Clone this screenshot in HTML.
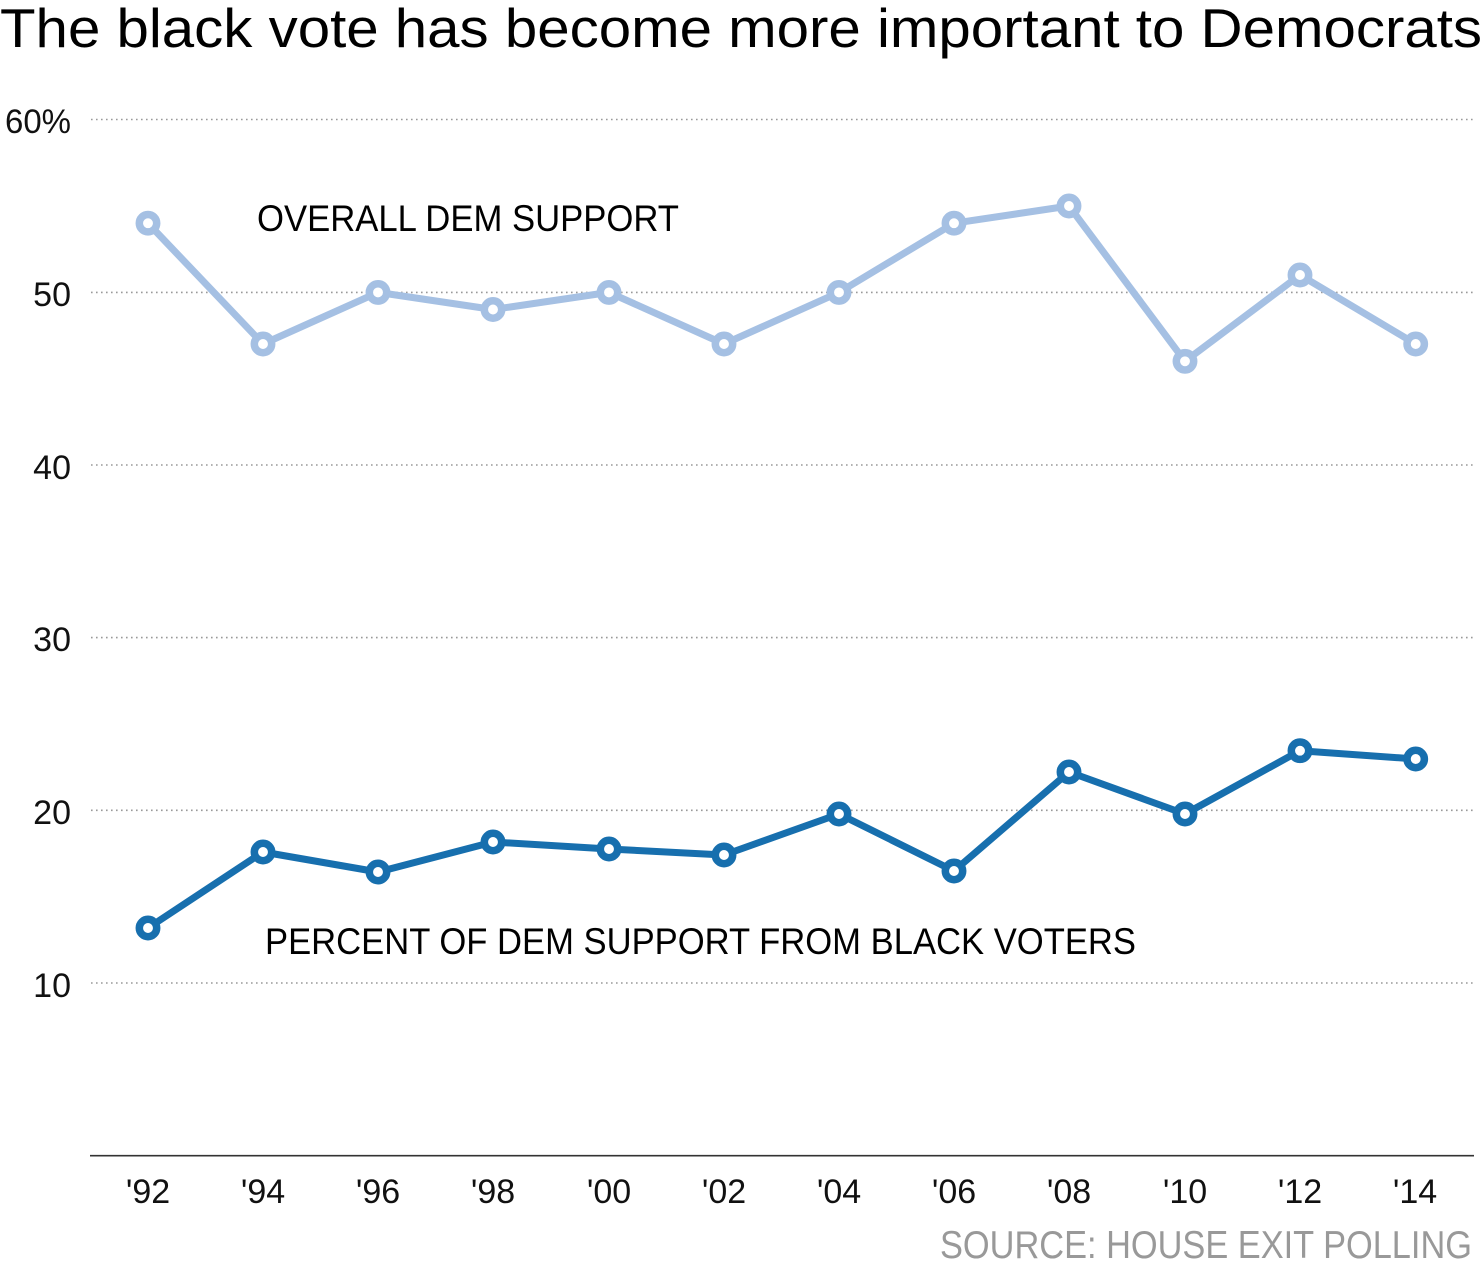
<!DOCTYPE html>
<html><head><meta charset="utf-8"><style>
html,body{margin:0;padding:0;background:#fff;}
svg{display:block;}
text{font-family:"Liberation Sans",sans-serif;}
</style></head><body>
<svg width="1484" height="1266" viewBox="0 0 1484 1266" xmlns="http://www.w3.org/2000/svg">
<rect width="1484" height="1266" fill="#fff"/>
<text x="0" y="47" font-size="55" fill="#000" textLength="1482" lengthAdjust="spacingAndGlyphs">The black vote has become more important to Democrats</text>
<g stroke="#999" stroke-width="1.6" stroke-dasharray="1.6 3.4" fill="none">
<line x1="91" y1="119.5" x2="1474" y2="119.5"/>
<line x1="91" y1="292.4" x2="1474" y2="292.4"/>
<line x1="91" y1="465" x2="1474" y2="465"/>
<line x1="91" y1="637.6" x2="1474" y2="637.6"/>
<line x1="91" y1="810.3" x2="1474" y2="810.3"/>
<line x1="91" y1="983" x2="1474" y2="983"/>
</g>
<line x1="90" y1="1155.7" x2="1474" y2="1155.7" stroke="#333" stroke-width="1.6"/>
<g font-size="34" fill="#111" text-anchor="end">
<text x="71" y="133" textLength="66" lengthAdjust="spacingAndGlyphs">60%</text>
<text x="71" y="306">50</text>
<text x="71" y="479">40</text>
<text x="71" y="651">30</text>
<text x="71" y="824">20</text>
<text x="71" y="997">10</text>
</g>
<g font-size="34" fill="#111" text-anchor="middle">
<text x="148" y="1203">'92</text>
<text x="263" y="1203">'94</text>
<text x="378" y="1203">'96</text>
<text x="493" y="1203">'98</text>
<text x="609" y="1203">'00</text>
<text x="724" y="1203">'02</text>
<text x="839" y="1203">'04</text>
<text x="954" y="1203">'06</text>
<text x="1069" y="1203">'08</text>
<text x="1185" y="1203">'10</text>
<text x="1300" y="1203">'12</text>
<text x="1415" y="1203">'14</text>
</g>
<text x="257" y="231" font-size="37" fill="#000" textLength="422" lengthAdjust="spacingAndGlyphs">OVERALL DEM SUPPORT</text>
<text x="265" y="954" font-size="37" fill="#000" textLength="871" lengthAdjust="spacingAndGlyphs">PERCENT OF DEM SUPPORT FROM BLACK VOTERS</text>
<text x="940" y="1258" font-size="39" fill="#999" textLength="532" lengthAdjust="spacingAndGlyphs">SOURCE: HOUSE EXIT POLLING</text>
<g fill="none" stroke="#a5c0e3" stroke-width="7" stroke-linejoin="round">
<polyline points="148,223.2 263,344 378,292.4 493,309.5 609,292.4 724,344 839,292.4 954,223.2 1069,206 1185,361.3 1300,275 1415.7,344"/>
</g>
<g fill="#fff" stroke="#a5c0e3" stroke-width="7.5">
<circle cx="148" cy="223.2" r="8.7"/><circle cx="263" cy="344" r="8.7"/><circle cx="378" cy="292.4" r="8.7"/><circle cx="493" cy="309.5" r="8.7"/><circle cx="609" cy="292.4" r="8.7"/><circle cx="724" cy="344" r="8.7"/><circle cx="839" cy="292.4" r="8.7"/><circle cx="954" cy="223.2" r="8.7"/><circle cx="1069" cy="206" r="8.7"/><circle cx="1185" cy="361.3" r="8.7"/><circle cx="1300" cy="275" r="8.7"/><circle cx="1415.7" cy="344" r="8.7"/>
</g>
<g fill="none" stroke="#176fae" stroke-width="7" stroke-linejoin="round">
<polyline points="148,928 263,852 378,872 493,842 609,849 724,855 839,814 954,871 1069,772 1185,814 1300,750.7 1415.7,759"/>
</g>
<g fill="#fff" stroke="#176fae" stroke-width="7.5">
<circle cx="148" cy="928" r="8.7"/><circle cx="263" cy="852" r="8.7"/><circle cx="378" cy="872" r="8.7"/><circle cx="493" cy="842" r="8.7"/><circle cx="609" cy="849" r="8.7"/><circle cx="724" cy="855" r="8.7"/><circle cx="839" cy="814" r="8.7"/><circle cx="954" cy="871" r="8.7"/><circle cx="1069" cy="772" r="8.7"/><circle cx="1185" cy="814" r="8.7"/><circle cx="1300" cy="750.7" r="8.7"/><circle cx="1415.7" cy="759" r="8.7"/>
</g>
</svg>
</body></html>
